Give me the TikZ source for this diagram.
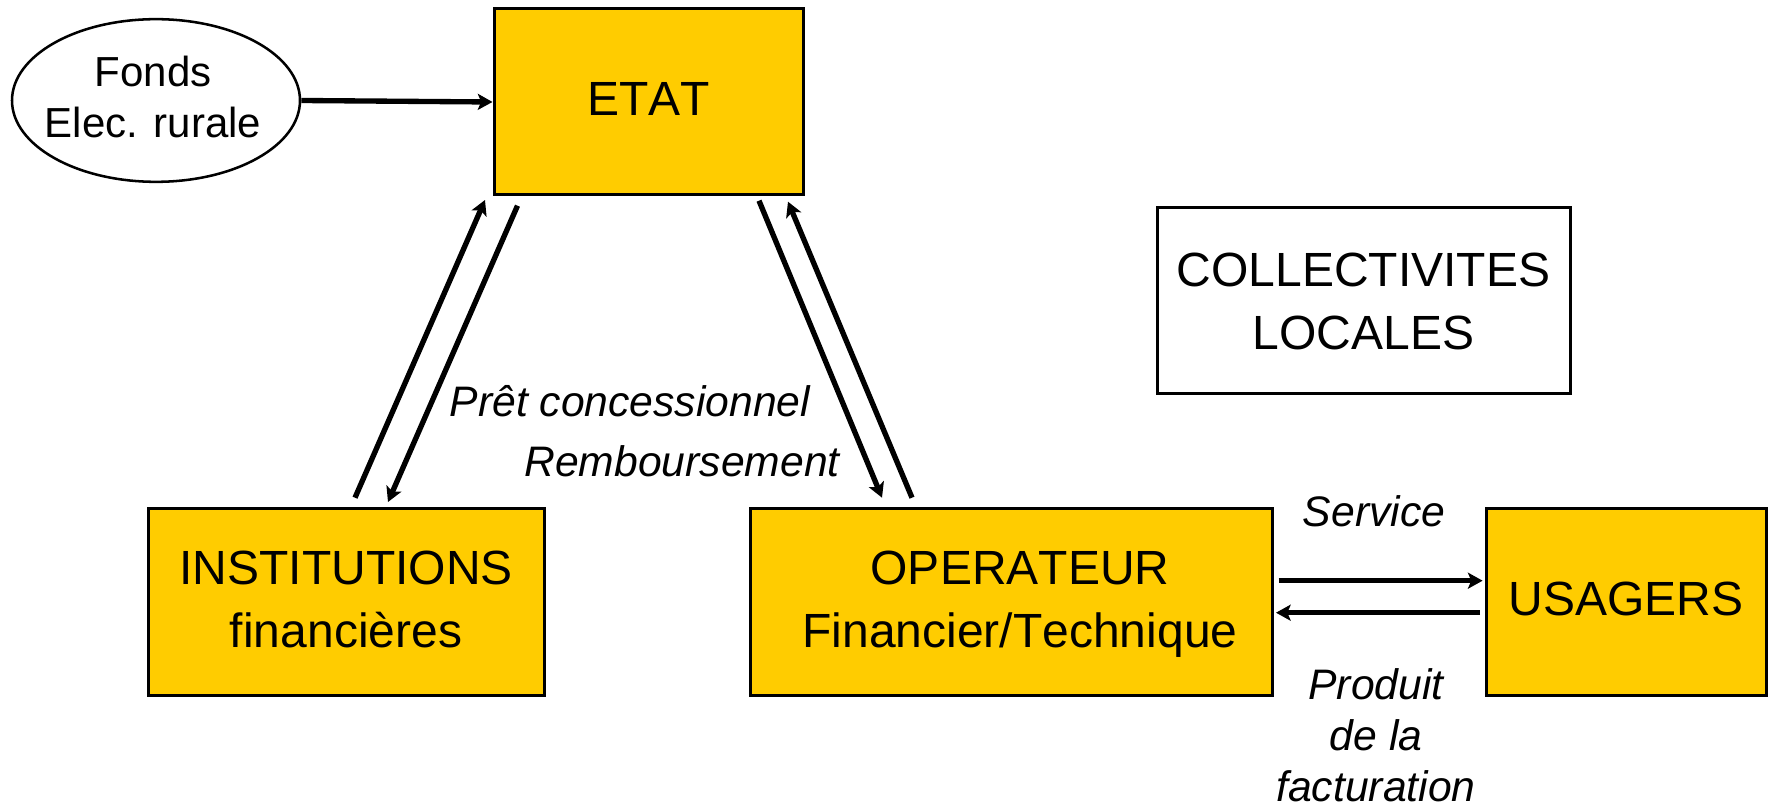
\documentclass[tikz,border=0pt]{standalone}
\usepackage{fontspec}
\setmainfont[Kerning=Off]{Liberation Sans}
\usetikzlibrary{arrows.meta,shapes.geometric}
\newlength{\pxu}\setlength{\pxu}{0.75pt}
\newcommand{\boxstrut}{\rule[-9.5\pxu]{0pt}{45.5\pxu}}
\newcommand{\tallstrut}{\rule{0pt}{38\pxu}}
\newcommand{\collstrut}{\rule{0pt}{45\pxu}}
\newcommand{\ovalline}[1]{\makebox[0pt]{#1\hspace{6\pxu}}}
\newcommand{\operline}[1]{\makebox[0pt]{\hspace{17\pxu}#1}}
\definecolor{boxgold}{HTML}{FFCC00}
\tikzset{
  x=0.75pt,y=-0.75pt,
  boxnode/.style={draw=black,line width=2.25pt,rectangle,inner sep=0pt,align=center,
    font=\fontsize{36pt}{47.25pt}\selectfont},
  goldbox/.style={boxnode,fill=boxgold},
  flowlabel/.style={inner sep=0pt,align=center,anchor=base,
    font=\fontsize{32pt}{38.25pt}\selectfont\itshape},
  flowarrow/.style={line width=4pt,-{Stealth[length=11pt,width=12pt,inset=2.5pt]}},
}
\begin{document}
\begin{tikzpicture}
\useasboundingbox (0,0) rectangle (1768,805);
\node[ellipse,draw=black,line width=1.9pt,fill=white,inner sep=0pt,minimum width=216pt,minimum height=122pt,align=center,
  font=\fontsize{31.5pt}{38.25pt}\selectfont] (fonds) at (156,100.5) {\ovalline{Fonds}\\\ovalline{Elec. rurale}\rule[-8\pxu]{0pt}{0pt}};
\node[goldbox,minimum width=231.75pt,minimum height=139.5pt] (etat) at (648.5,102) {\boxstrut ETAT};
\node[boxnode,fill=white,minimum width=309.75pt,minimum height=139.5pt] (coll) at (1363.5,300.75) {\collstrut COLLECTIVITES\\LOCALES\boxstrut};
\node[goldbox,minimum width=297pt,minimum height=139.5pt] (inst) at (346,602) {\tallstrut INSTITUTIONS\\financières\boxstrut};
\node[goldbox,minimum width=392pt,minimum height=139.5pt] (oper) at (1011.5,602) {\tallstrut\operline{OPERATEUR}\\\operline{Financier/Technique}\boxstrut};
\node[goldbox,minimum width=210pt,minimum height=139.5pt] (usag) at (1626,602) {\boxstrut USAGERS};
\node[flowlabel] (pret) at (630,417) {Prêt concessionnel};
\node[flowlabel] (remb) at (682,477) {Remboursement};
\node[flowlabel] (serv) at (1374,527) {Service};
\node[flowlabel] (prod) at (1376,801) {Produit\\de la\\facturation};
\coordinate (a1s) at (355,497.7);
\coordinate (a1e) at (485,200);
\coordinate (a2s) at (517.5,205.7);
\coordinate (a2e) at (388,502);
\coordinate (a3s) at (759,200.7);
\coordinate (a3e) at (882,497.7);
\coordinate (a4s) at (912,497.7);
\coordinate (a4e) at (788,201.7);
\coordinate (a5s) at (1278.6,580.7);
\coordinate (a5e) at (1482.6,580.7);
\coordinate (a6s) at (1480,612.7);
\coordinate (a6e) at (1276,612.7);
\draw[flowarrow] (fonds.east) -- (etat.west);
\draw[flowarrow] (a1s) -- (a1e);
\draw[flowarrow] (a2s) -- (a2e);
\draw[flowarrow] (a3s) -- (a3e);
\draw[flowarrow] (a4s) -- (a4e);
\draw[flowarrow] (a5s) -- (a5e);
\draw[flowarrow] (a6s) -- (a6e);
\end{tikzpicture}
\end{document}
